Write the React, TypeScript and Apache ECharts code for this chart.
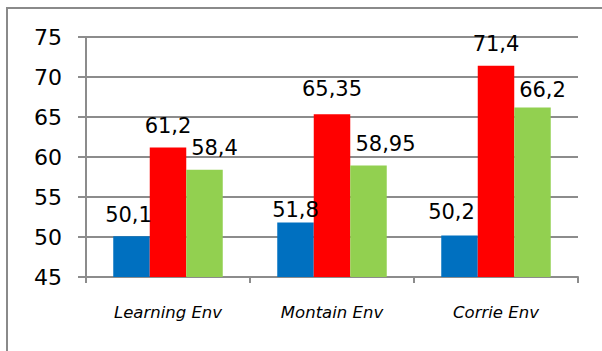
import React, { useEffect, useRef } from "react";
import * as echarts from "echarts";

const categories = ["Learning Env", "Montain Env", "Corrie Env"];
const blueValues = [50.1, 51.8, 50.2];
const redValues = [61.2, 65.35, 71.4];
const greenValues = [58.4, 58.95, 66.2];
const yTicks = { min: 45, max: 75, interval: 5 };

const fmt = (v: number) => String(v).replace(".", ",");

export default function App() {
  const ref = useRef<HTMLDivElement>(null);
  useEffect(() => {
    if (!ref.current) return;
    const chart = echarts.init(ref.current, undefined, { renderer: "svg" });
    // label nudges [dx, dy] per series/point
    const nudges: number[][][] = [
      [[-3, 0], [0, 9], [-8, -2]],
      [[0, 0], [0, -4], [0, 0]],
      [[10, 0], [17, 0], [10, 4]],
    ];
    const makeSeries = (name: string, values: number[], color: string, idx: number) => ({
      name,
      type: "bar",
      barWidth: 36.5,
      barGap: "0%",
      itemStyle: { color },
      data: values.map((v, i) => ({
        value: v,
        label: { offset: nudges[idx][i] },
      })),
      label: {
        show: true,
        position: "top",
        distance: 11,
        fontFamily: "DejaVu Sans",
        fontSize: 21,
        color: "#000",
        formatter: (p: any) => fmt(p.value),
      },
    });
    chart.setOption({
      animation: false,
      backgroundColor: "#fff",
      grid: { left: 86, right: 24, top: 37, bottom: 74, containLabel: false },
      xAxis: {
        type: "category",
        data: categories,
        axisLine: { lineStyle: { color: "#8c8c8c", width: 2 } },
        axisTick: { show: true, length: 6, alignWithLabel: false, lineStyle: { color: "#8c8c8c", width: 2 } },
        axisLabel: {
          margin: 27,
          fontFamily: "DejaVu Sans",
          fontStyle: "italic",
          fontSize: 16.5,
          color: "#000",
        },
      },
      yAxis: {
        type: "value",
        min: yTicks.min,
        max: yTicks.max,
        interval: yTicks.interval,
        axisLine: { show: true, lineStyle: { color: "#8c8c8c", width: 2 } },
        axisTick: { show: true, length: 8, lineStyle: { color: "#8c8c8c", width: 2 } },
        splitLine: { lineStyle: { color: "#8c8c8c", width: 2 } },
        axisLabel: {
          margin: 24,
          fontFamily: "DejaVu Sans",
          fontSize: 22,
          color: "#000",
        },
      },
      graphic: [
        {
          type: "rect",
          shape: { x: 7, y: 8, width: 800, height: 800 },
          style: { fill: "none", stroke: "#8a8a8a", lineWidth: 2 },
          silent: true,
        },
      ],
      series: [
        makeSeries("Blue", blueValues, "#0070C0", 0),
        makeSeries("Red", redValues, "#FF0000", 1),
        makeSeries("Green", greenValues, "#92D050", 2),
      ],
    });
    return () => chart.dispose();
  }, []);
  return (
    <div
      ref={ref}
      style={{ position: "fixed", left: 0, top: 0, width: 602, height: 351 }}
    />
  );
}
